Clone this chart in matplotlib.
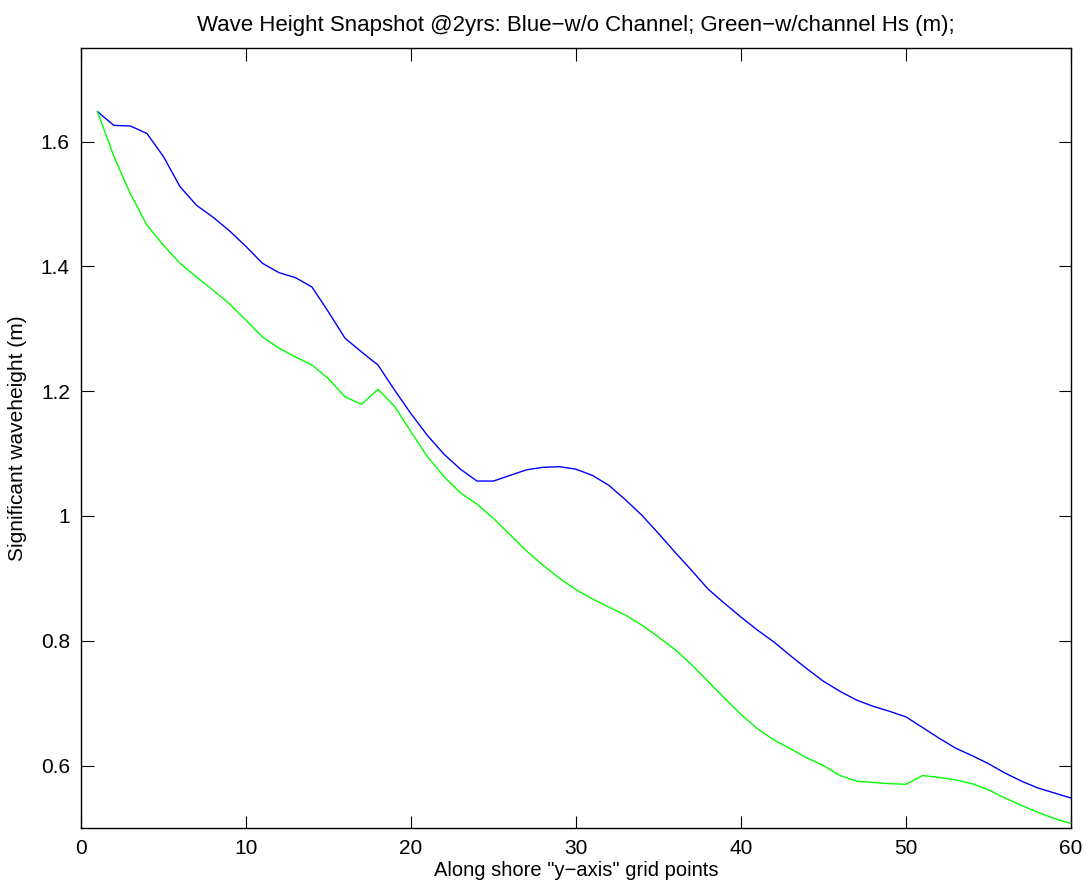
import numpy as np
import matplotlib.pyplot as plt

plt.rcParams['font.family'] = ['Liberation Sans', 'DejaVu Sans']

grid_pts = list(range(1, 61))

# Hs without channel (blue)
hs_no_channel = [1.648, 1.626, 1.625, 1.613, 1.576, 1.528, 1.498, 1.479, 1.457, 1.432,
                 1.405, 1.390, 1.382, 1.367, 1.327, 1.285, 1.263, 1.242, 1.202, 1.164,
                 1.129, 1.099, 1.075, 1.056, 1.056, 1.065, 1.074, 1.078, 1.079, 1.075,
                 1.065, 1.049, 1.026, 1.001, 0.972, 0.942, 0.913, 0.883, 0.860, 0.838,
                 0.817, 0.798, 0.776, 0.755, 0.735, 0.719, 0.705, 0.695, 0.687, 0.678,
                 0.661, 0.644, 0.628, 0.616, 0.603, 0.588, 0.575, 0.564, 0.556, 0.548]

# Hs with channel (green)
hs_channel = [1.648, 1.576, 1.516, 1.466, 1.434, 1.405, 1.383, 1.362, 1.340, 1.314,
              1.287, 1.269, 1.255, 1.242, 1.220, 1.191, 1.179, 1.203, 1.176, 1.135,
              1.095, 1.063, 1.037, 1.019, 0.996, 0.970, 0.944, 0.921, 0.900, 0.882,
              0.867, 0.854, 0.841, 0.825, 0.806, 0.786, 0.762, 0.735, 0.708, 0.682,
              0.659, 0.641, 0.627, 0.612, 0.600, 0.584, 0.575, 0.573, 0.571, 0.570,
              0.584, 0.581, 0.577, 0.571, 0.561, 0.548, 0.536, 0.525, 0.515, 0.507]

fig = plt.figure(figsize=(10.88, 8.86), dpi=100)
ax = fig.add_axes([0.0744, 0.0655, 0.910, 0.8803])

ax.plot(grid_pts, hs_no_channel, color=(0, 0, 1), linewidth=1.0)
ax.plot(grid_pts, hs_channel, color=(0, 1, 0), linewidth=1.0)

ax.set_xlim(0, 60)
ax.set_ylim(0.5, 1.75)
ax.set_xticks([0, 10, 20, 30, 40, 50, 60])
ax.set_yticks([0.6, 0.8, 1.0, 1.2, 1.4, 1.6])
ax.set_yticklabels(['0.6', '0.8', '1', '1.2', '1.4', '1.6'])
ax.tick_params(direction='in', length=9, width=0.8, top=True, right=True,
               labelsize=15, pad=8)
for s in ax.spines.values():
    s.set_linewidth(1.0)

ax.set_title('Wave Height Snapshot @2yrs: Blue\u2212w/o Channel; Green\u2212w/channel Hs (m);',
             fontsize=16, pad=12)
ax.set_xlabel('Along shore "y\u2212axis" grid points', fontsize=14.5, labelpad=2)
ax.set_ylabel('Significant waveheight (m)', fontsize=15, labelpad=10)

fig.savefig('out.png', dpi=100)
